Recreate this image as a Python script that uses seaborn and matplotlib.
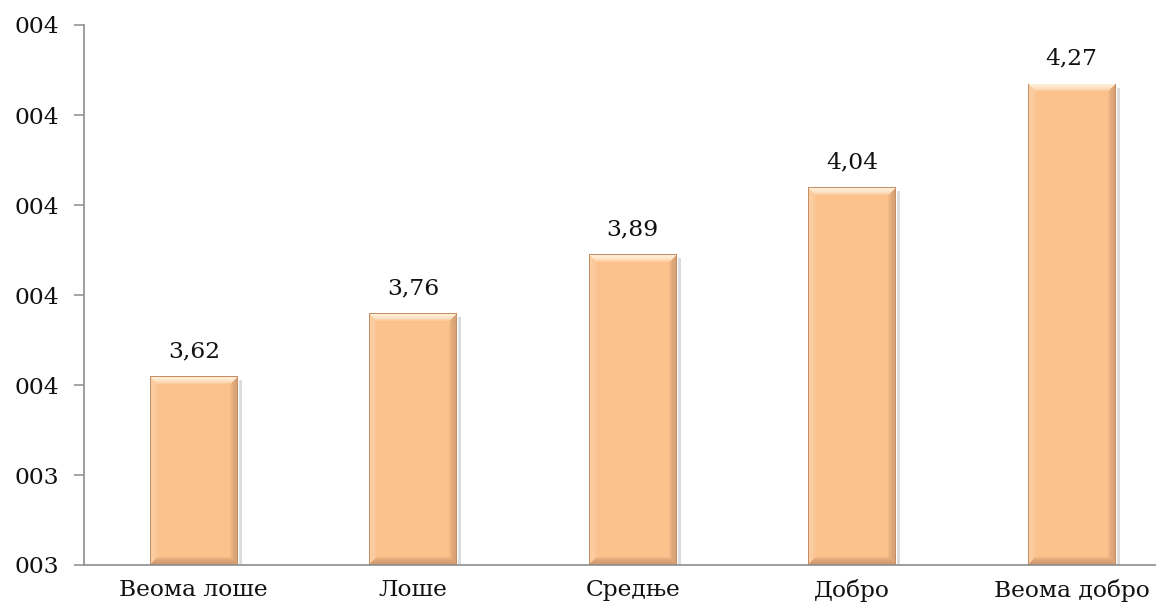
import numpy as np
import pandas as pd
import matplotlib
matplotlib.use("Agg")
import matplotlib.pyplot as plt
import seaborn as sns
from matplotlib.patches import Rectangle
from matplotlib.ticker import FixedLocator, FuncFormatter

categories = ["Веома лоше", "Лоше", "Средње", "Добро", "Веома добро"]
values = [3.62, 3.76, 3.89, 4.04, 4.27]
y_ticks = [3.2, 3.4, 3.6, 3.8, 4.0, 4.2, 4.4]

df = pd.DataFrame({"category": categories, "value": values})

sns.set_theme(style="white")
plt.rcParams["font.family"] = ["DejaVu Serif", "Liberation Serif"]
FS = 16.8

W, H, DPI = 1156, 613, 100
fig = plt.figure(figsize=(W / DPI, H / DPI), dpi=DPI)
ax = fig.add_axes([84 / W, 48 / H, 5 * 219.5 / W, 540 / H])

sns.barplot(data=df, x="category", y="value", color="#FCC08C", width=0.4,
            saturation=1, ax=ax, zorder=3)

ax.set_xlim(-0.5, len(categories) - 0.5)
ax.set_ylim(y_ticks[0], y_ticks[-1])


def bevel_image(wpx, hpx, b=8):
    """RGB image of a bevelled peach block."""
    yy, xx = np.mgrid[0:hpx, 0:wpx]
    d_top = yy
    d_bot = hpx - 1 - yy
    d_left = xx
    d_right = wpx - 1 - xx
    img = np.empty((hpx, wpx, 3))
    body = np.array([252, 194, 142]) / 255
    img[:] = body
    top = np.array([255, 238, 216]) / 255
    bot = np.array([210, 156, 112]) / 255
    left = np.array([250, 206, 164]) / 255
    right = np.array([216, 162, 116]) / 255
    dmin = np.minimum.reduce([d_top, d_bot, d_left, d_right])
    for d, col in ((d_left, left), (d_right, right), (d_bot, bot), (d_top, top)):
        m = (d == dmin) & (d < b)
        t = ((d[m] / b) ** 2)[:, None]
        img[m] = col * (1 - t) + body * t
    edge = np.array([196, 142, 98]) / 255
    img[dmin < 1] = edge
    return img


ylo = ax.get_ylim()[0]
for patch, val in zip(ax.patches, values):
    x0, w = patch.get_x(), patch.get_width()
    y0 = max(patch.get_y(), ylo)
    y1 = patch.get_y() + patch.get_height()
    patch.set_y(y0)
    patch.set_height(y1 - y0)
    p0 = ax.transData.transform((x0, y0))
    p1 = ax.transData.transform((x0 + w, y1))
    wpx, hpx = int(round(p1[0] - p0[0])), int(round(p1[1] - p0[1]))
    # soft grey drop shadow on the right side
    sdx = ax.transData.inverted().transform((p0[0] + 4, p0[1]))[0] - x0
    sdy = ax.transData.inverted().transform((p0[0], p1[1] - 4))[1]
    ax.add_patch(Rectangle((x0 + sdx, y0), w, sdy - y0, facecolor="#8a8a8a",
                           alpha=0.3, edgecolor="none", zorder=2))
    img = bevel_image(max(wpx, 2), max(hpx, 2))
    im = ax.imshow(img, extent=(x0, x0 + w, y0, y1), aspect="auto",
                   origin="upper", zorder=4, interpolation="nearest")
    im.set_clip_path(patch)
    ax.annotate(f"{val:.2f}".replace(".", ","), (x0 + w / 2, y1),
                xytext=(0, 10), textcoords="offset points", ha="center",
                va="bottom", fontsize=FS, color="#111111", zorder=5)

ax.set_xlim(-0.5, len(categories) - 0.5)
ax.set_ylim(y_ticks[0], y_ticks[-1])

ax.yaxis.set_major_locator(FixedLocator(y_ticks))
ax.yaxis.set_major_formatter(FuncFormatter(lambda v, p: f"{int(round(v)):03d}"))
ax.set_xlabel("")
ax.set_ylabel("")

for s in ("top", "right"):
    ax.spines[s].set_visible(False)
for s in ("left", "bottom"):
    ax.spines[s].set_color("#8c8c8c")
    ax.spines[s].set_linewidth(1.2)
    ax.spines[s].set_zorder(6)

ax.tick_params(axis="y", which="major", left=True, length=7, width=1.1,
               color="#8c8c8c", labelsize=FS, pad=11, labelcolor="#111111")
ax.tick_params(axis="x", which="major", bottom=False, length=0,
               labelsize=FS, pad=10, labelcolor="#111111")

fig.savefig("out.png", dpi=DPI, facecolor="white")
